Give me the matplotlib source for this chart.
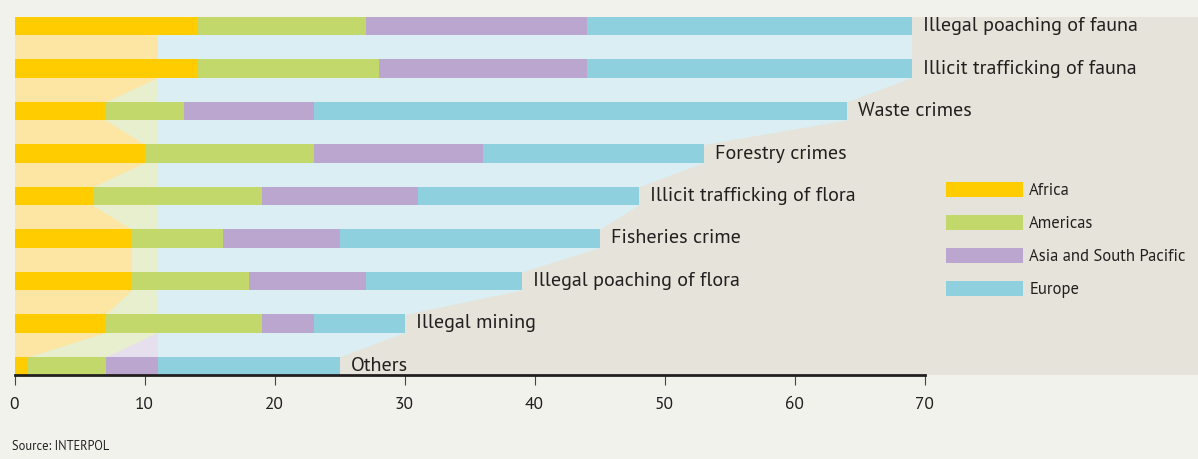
import matplotlib.pyplot as plt
import numpy as np
from matplotlib.patches import Patch

categories = ["Illegal poaching of fauna", "Illicit trafficking of fauna", "Waste crimes",
              "Forestry crimes", "Illicit trafficking of flora", "Fisheries crime",
              "Illegal poaching of flora", "Illegal mining", "Others"]
regions = ["Africa", "Americas", "Asia and South Pacific", "Europe"]
africa = [14, 14, 7, 10, 6, 9, 9, 7, 1]
americas = [13, 14, 6, 13, 13, 7, 9, 12, 6]
asia = [17, 16, 10, 13, 12, 9, 9, 4, 4]
europe = [25, 25, 41, 17, 17, 20, 12, 7, 14]
ticks = [0, 10, 20, 30, 40, 50, 60, 70]

colors = ["#ffcc00", "#c3d86a", "#baa6cf", "#8fd0de"]
light = ["#fde6a4", "#e8efcf", "#e6dfee", "#daeef3"]
clip = 11  # the pale bands on the left stop here

plt.rcParams["font.family"] = ["PT Sans", "Lato", "DejaVu Sans"]
ink = "#231f20"

series = np.array([africa, americas, asia, europe], dtype=float)
ends = np.cumsum(series, axis=0)
starts = ends - series
pos = np.arange(len(categories))
h = 0.4245

fig = plt.figure(figsize=(11.98, 4.59), dpi=100, facecolor="#f2f2ec")
ax = fig.add_axes([14.5 / 1198, 84 / 459, 1 - 14.5 / 1198, 358 / 459])
ax.set_facecolor("#e6e4da")

# pale bands joining the bar ends
ys = np.ravel(np.column_stack([pos - h / 2, pos + h / 2]))
for k in range(3, -1, -1):
    xs = np.repeat(ends[k], 2)
    if k < 3:
        xs = np.minimum(xs, clip)
    ax.fill_betweenx(ys, 0, xs, color=light[k], lw=0, zorder=1)

for k in range(4):
    ax.barh(pos, series[k], left=starts[k], height=h, color=colors[k], lw=0, zorder=2)

for i, name in enumerate(categories):
    ax.text(ends[3][i] + 0.9, pos[i], name, va="center", ha="left",
            fontsize=14.5, color=ink, zorder=3)

ax.set_xlim(0, (1198 - 14.5) / 13.0)
ax.set_ylim(len(categories) - 1 + h / 2, -h / 2)
ax.set_yticks([])
ax.set_xticks(ticks)
ax.set_xticklabels([str(t) for t in ticks], fontsize=12.5, color=ink)
ax.tick_params(axis="x", length=7.5, width=0.8, color="#444444", pad=8)
for s in ["top", "right", "left"]:
    ax.spines[s].set_visible(False)
ax.spines["bottom"].set_bounds(0, 70)
ax.spines["bottom"].set_linewidth(2)
ax.spines["bottom"].set_color(ink)

handles = [Patch(facecolor=c, edgecolor="none") for c in colors]
fig.legend(handles, regions, loc="upper left", bbox_to_anchor=(931 / 1198, 1 - 167 / 459),
           frameon=False, fontsize=12, handlelength=4.6, handleheight=1.0,
           labelspacing=0.95, handletextpad=0.4, labelcolor=ink)

fig.text(12 / 1198, 1 - 446 / 459, "Source: INTERPOL", fontsize=9, color=ink, va="center")

fig.savefig("out.png", dpi=100, facecolor=fig.get_facecolor())
